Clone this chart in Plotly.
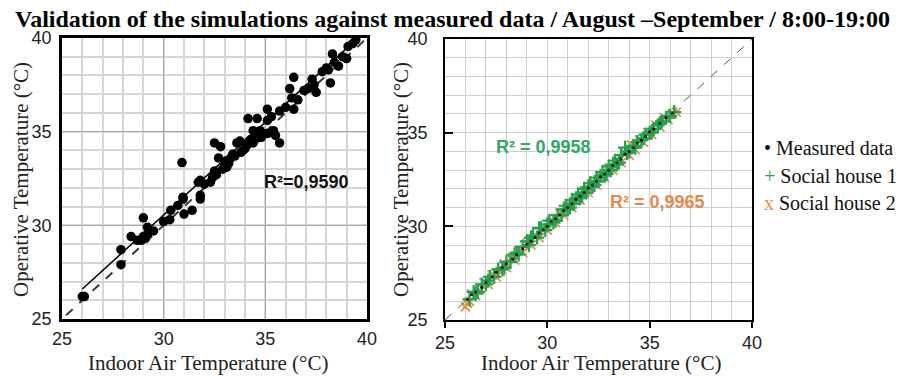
import plotly.graph_objects as go

# ---------------- data ----------------
# Left panel: measured points
left_air = [26.0, 26.1, 27.9, 27.9, 28.4, 28.7, 29.0, 29.0, 29.2, 29.2, 28.9, 29.1,
            30.3, 30.35, 30.7, 30.96, 31.0, 31.4, 31.8, 30.9, 30.95, 31.8, 31.8,
            32.4, 32.5, 32.5, 32.8, 32.7, 33.0, 33.1, 33.3, 33.4, 33.1, 33.6, 33.75,
            34.2, 34.4, 34.6, 34.8, 34.15, 34.6, 34.4, 34.75, 35.1, 35.1, 35.1, 35.4,
            35.5, 35.7, 36.2, 36.4, 36.3, 36.4, 36.0, 37.1, 37.3, 37.4, 37.5, 37.8,
            38.0, 38.1, 38.2, 38.3, 38.4, 39.0, 39.07, 39.3, 39.45,
            32.6, 32.9, 33.2, 33.5, 33.8, 34.0, 34.1, 34.3, 34.5, 32.3, 32.0, 33.9,
            35.3, 35.7, 36.6, 36.9, 38.6, 38.8, 29.5, 30.0, 31.7]
left_op = [26.2, 26.2, 28.7, 27.9, 29.4, 29.2, 30.4, 29.4, 29.9, 29.5, 29.2, 29.3,
           30.3, 30.8, 31.06, 31.4, 30.6, 30.8, 31.4, 33.35, 31.5, 32.4, 31.6,
           32.55, 32.9, 34.4, 34.2, 33.6, 33.2, 33.45, 33.6, 33.8, 33.1, 34.4, 34.5,
           34.5, 34.4, 34.65, 34.7, 35.7, 35.7, 35.05, 35.05, 36.2, 35.6, 34.9, 35.05,
           34.8, 34.4, 37.3, 37.9, 36.8, 36.2, 36.3, 37.3, 37.8, 37.5, 37.1, 38.2,
           38.4, 38.3, 37.6, 39.15, 38.7, 38.9, 39.55, 39.7, 39.9,
           32.7, 33.0, 33.3, 33.7, 33.9, 34.1, 34.3, 34.6, 34.9, 32.3, 32.2, 34.0,
           35.8, 36.1, 36.7, 37.2, 38.5, 39.0, 29.7, 30.2, 32.3]
left_fit_x = [26.0, 39.45]
left_fit_y = [26.6, 39.9]
left_identity = [25.2, 40.0]

# Right panel
right_identity = [25.0, 40.0]
meas_x = [26.1, 26.3, 26.5, 26.8, 27.0, 27.3, 27.5, 27.8, 28.0, 28.3, 28.5, 28.8,
          29.0, 29.2, 29.4, 29.6, 29.8, 30.0, 30.2, 30.4, 30.6, 30.8, 31.0, 31.2,
          31.4, 31.6, 31.8, 32.0, 32.2, 32.4, 32.6, 32.8, 33.0, 33.2, 33.4, 33.6,
          33.8, 34.0, 34.2, 34.4, 34.6, 34.8, 35.0, 35.2, 35.5, 35.8, 36.1]
meas_y = [26.1, 26.35, 26.5, 26.75, 27.0, 27.3, 27.55, 27.8, 28.0, 28.25, 28.5, 28.8,
          29.05, 29.2, 29.4, 29.65, 29.8, 30.0, 30.25, 30.4, 30.6, 30.85, 31.0, 31.2,
          31.45, 31.6, 31.8, 32.05, 32.2, 32.4, 32.65, 32.8, 33.0, 33.25, 33.4, 33.6,
          33.85, 34.0, 34.2, 34.45, 34.6, 34.8, 35.05, 35.2, 35.5, 35.8, 36.05]
sh1_x = [26.2, 26.4, 26.6, 26.8, 27.0, 27.2, 27.4, 27.6, 27.8, 28.0, 28.2, 28.4,
         28.6, 28.8, 29.0, 29.1, 29.3, 29.5, 29.7, 29.9, 30.1, 30.3, 30.5, 30.7,
         30.9, 31.0, 31.2, 31.3, 31.5, 31.6, 31.8, 31.9, 32.1, 32.2, 32.4, 32.5,
         32.7, 32.8, 33.0, 33.1, 33.3, 33.4, 33.6, 33.8, 34.0, 34.2, 34.4, 34.6,
         34.8, 35.0, 35.2, 35.4, 35.6, 35.8, 36.0, 36.2,
         26.5, 27.1, 27.9, 28.5, 29.2, 29.6, 30.0, 30.4, 30.8, 31.1, 31.4, 31.7,
         32.0, 32.3, 32.6, 32.9, 33.2, 33.5, 33.9, 34.3, 34.7, 35.1, 35.5]
sh1_y = [26.1, 26.5, 26.5, 26.9, 26.9, 27.3, 27.3, 27.7, 27.7, 28.1, 28.1, 28.5,
         28.5, 28.9, 29.2, 29.0, 29.5, 29.4, 29.9, 29.8, 30.3, 30.2, 30.6, 30.6,
         31.1, 30.9, 31.4, 31.2, 31.7, 31.5, 32.0, 31.8, 32.3, 32.1, 32.6, 32.4,
         32.9, 32.7, 33.2, 33.0, 33.5, 33.3, 33.8, 34.2, 34.0, 34.3, 34.5, 34.6,
         34.9, 35.0, 35.2, 35.4, 35.6, 35.8, 35.9, 36.1,
         26.4, 27.1, 27.8, 28.6, 29.4, 29.9, 30.1, 30.3, 30.9, 31.0, 31.5, 31.6,
         32.1, 32.2, 32.7, 32.8, 33.3, 33.4, 33.9, 34.2, 34.7, 35.0, 35.5]
sh2_x = [26.0, 26.1, 26.2, 26.3, 26.5, 26.7, 26.9, 27.1, 27.3, 27.5, 27.7, 27.9,
         28.0, 28.2, 28.4, 28.6, 28.8, 29.0, 29.2, 29.4, 29.6, 29.8, 30.0, 30.2,
         30.4, 30.6, 30.8, 31.0, 31.2, 31.4, 31.6, 31.8, 32.0, 32.2, 32.4, 32.6,
         32.8, 33.0, 33.2, 33.4, 33.6, 33.8, 34.0, 34.1, 34.3, 34.5, 34.7, 34.9,
         35.1, 35.3, 35.5, 35.7, 35.9, 36.1, 36.3]
sh2_y = [25.7, 25.9, 26.0, 26.4, 26.3, 26.6, 27.0, 26.9, 27.4, 27.3, 27.6, 28.0,
         27.8, 28.3, 28.2, 28.7, 28.6, 29.1, 29.0, 29.5, 29.4, 29.9, 29.8, 30.3,
         30.2, 30.7, 30.6, 31.1, 31.0, 31.5, 31.4, 31.9, 31.8, 32.3, 32.2, 32.7,
         32.6, 33.1, 33.0, 33.5, 33.4, 33.9, 33.8, 34.35, 34.1, 34.6, 34.5, 35.0,
         34.9, 35.4, 35.3, 35.8, 35.7, 36.0, 36.1]

axis_ticks = [25, 30, 35, 40]
title_text = "Validation of the simulations against measured data / August \u2013September / 8:00-19:00"
x_title = "Indoor Air Temperature (\u00b0C)"
y_title = "Operative Temperature (\u00b0C)"
r2_left = "R\u00b2=0,9590"
r2_sh1 = "R\u00b2 = 0,9958"
r2_sh2 = "R\u00b2 = 0,9965"
legend_labels = ["Measured data", "Social house 1", "Social house 2"]

GREEN = "#22a24c"
ORANGE = "#ee8a4e"
GREEN_TXT = "#2fa866"
ORANGE_TXT = "#e8894c"

# page has an 8px body margin; figure sized to fit in the window
OFF = 8
W, H = 907 - OFF, 376 - OFF
def fx(p):
    return (p - OFF) / W
def fy(p):
    return 1 - (p - OFF) / H

fig = go.Figure()

# left panel
fig.add_trace(go.Scatter(x=left_identity, y=left_identity, mode="lines",
                         line=dict(color="#3a3a3a", width=2, dash="dash"),
                         xaxis="x", yaxis="y", hoverinfo="skip"))
fig.add_trace(go.Scatter(x=left_fit_x, y=left_fit_y, mode="lines",
                         line=dict(color="black", width=1.5),
                         xaxis="x", yaxis="y", hoverinfo="skip"))
fig.add_trace(go.Scatter(x=left_air, y=left_op, mode="markers",
                         marker=dict(color="black", size=9.5),
                         xaxis="x", yaxis="y"))

# right panel
fig.add_trace(go.Scatter(x=sh2_x, y=sh2_y, mode="markers",
                         marker=dict(symbol="x-thin", size=9,
                                     line=dict(color=ORANGE, width=1.8)),
                         xaxis="x2", yaxis="y2"))
fig.add_trace(go.Scatter(x=sh1_x, y=sh1_y, mode="markers",
                         marker=dict(symbol="cross-thin", size=10,
                                     line=dict(color=GREEN, width=2.2)),
                         xaxis="x2", yaxis="y2"))
fig.add_trace(go.Scatter(x=meas_x, y=meas_y, mode="markers",
                         marker=dict(color="black", size=3),
                         xaxis="x2", yaxis="y2"))
fig.add_trace(go.Scatter(x=right_identity, y=right_identity, mode="lines",
                         line=dict(color="#555555", width=1, dash="dash"),
                         xaxis="x2", yaxis="y2", hoverinfo="skip"))

tickfont = dict(family="Liberation Sans, Arial", size=18, color="#222222")

common = dict(range=[25, 40], tickmode="array", tickvals=axis_ticks,
              zeroline=False, showline=True, linecolor="black", mirror=True,
              tickfont=tickfont, fixedrange=True, automargin=False)

fig.update_layout(
    template="none",
    width=W, height=H,
    margin=dict(l=0, r=0, t=0, b=0, pad=0),
    paper_bgcolor="white", plot_bgcolor="white",
    showlegend=False,
    xaxis=dict(**common, domain=[fx(62), fx(367)], anchor="y",
               linewidth=2.5, showgrid=True, gridcolor="#a8a8a8", gridwidth=1.2,
               minor=dict(tickvals=list(range(25, 41)), showgrid=True,
                          gridcolor="#d6d6d6", gridwidth=1.5),
               ticks="", ticklabelstandoff=2),
    yaxis=dict(**common, domain=[fy(319), fy(38)], anchor="x",
               linewidth=2.5, showgrid=True, gridcolor="#a8a8a8", gridwidth=1.2,
               minor=dict(tickvals=list(range(25, 41)), showgrid=True,
                          gridcolor="#d6d6d6", gridwidth=1.5),
               ticks="", ticklabelstandoff=4),
    xaxis2=dict(**common, domain=[fx(445), fx(752)], anchor="y2",
                linewidth=1.5, showgrid=True, gridcolor="#cfcfcf", gridwidth=1.2,
                minor=dict(tickvals=list(range(25, 41)), showgrid=True,
                           gridcolor="#cfcfcf", gridwidth=1.2),
                ticks="outside", ticklen=6, tickwidth=1.5, tickcolor="black",
                ticklabelstandoff=0),
    yaxis2=dict(**common, domain=[fy(320), fy(39)], anchor="x2",
                linewidth=1.5, showgrid=True, gridcolor="#cfcfcf", gridwidth=1.2,
                minor=dict(tickvals=list(range(25, 41)), showgrid=True,
                           gridcolor="#cfcfcf", gridwidth=1.2),
                ticks="inside", ticklen=8, tickwidth=1.5, tickcolor="black",
                ticklabelstandoff=12),
)

serif = "Liberation Serif, Times New Roman"
ann = []
ann.append(dict(text="<b>" + title_text + "</b>", x=fx(452), y=fy(19),
                xref="paper", yref="paper", showarrow=False, borderpad=0,
                font=dict(family=serif, size=24, color="black"),
                xanchor="center", yanchor="middle"))
ann.append(dict(text=x_title, x=fx(208), y=fy(363), xref="paper", yref="paper",
                showarrow=False, borderpad=0, font=dict(family=serif, size=21, color="#222"),
                xanchor="center", yanchor="middle"))
ann.append(dict(text=x_title, x=fx(601), y=fy(363), xref="paper", yref="paper",
                showarrow=False, borderpad=0, font=dict(family=serif, size=21, color="#222"),
                xanchor="center", yanchor="middle"))
ann.append(dict(text=y_title, x=fx(21), y=fy(180), xref="paper", yref="paper",
                showarrow=False, textangle=-90, borderpad=0,
                font=dict(family=serif, size=21, color="#222"),
                xanchor="center", yanchor="middle"))
ann.append(dict(text=y_title, x=fx(401), y=fy(180), xref="paper", yref="paper",
                showarrow=False, textangle=-90, borderpad=0,
                font=dict(family=serif, size=21, color="#222"),
                xanchor="center", yanchor="middle"))
ann.append(dict(text="<b>" + r2_left + "</b>", x=37.0, y=32.3, xref="x", yref="y",
                showarrow=False, font=dict(family="Liberation Sans, Arial", size=18, color="#111"),
                xanchor="center", yanchor="middle"))
ann.append(dict(text="<b>" + r2_sh1 + "</b>", x=29.8, y=34.24, xref="x2", yref="y2",
                showarrow=False, font=dict(family="Liberation Sans, Arial", size=18, color=GREEN_TXT),
                xanchor="center", yanchor="middle"))
ann.append(dict(text="<b>" + r2_sh2 + "</b>", x=35.4, y=31.3, xref="x2", yref="y2",
                showarrow=False, font=dict(family="Liberation Sans, Arial", size=18, color=ORANGE_TXT),
                xanchor="center", yanchor="middle"))
legend_syms = [("\u2022", "black"), ("+", GREEN), ("x", ORANGE)]
legend_y = [148, 176, 203]
for (sym, col), lab, ypos in zip(legend_syms, legend_labels, legend_y):
    ann.append(dict(text='<span style="color:%s">%s</span> %s' % (col, sym, lab),
                    x=fx(762), y=fy(ypos), xref="paper", yref="paper",
                    showarrow=False, font=dict(family=serif, size=20, color="#111"),
                    xanchor="left", yanchor="middle"))
fig.update_layout(annotations=ann)

fig.write_html("out.html")
